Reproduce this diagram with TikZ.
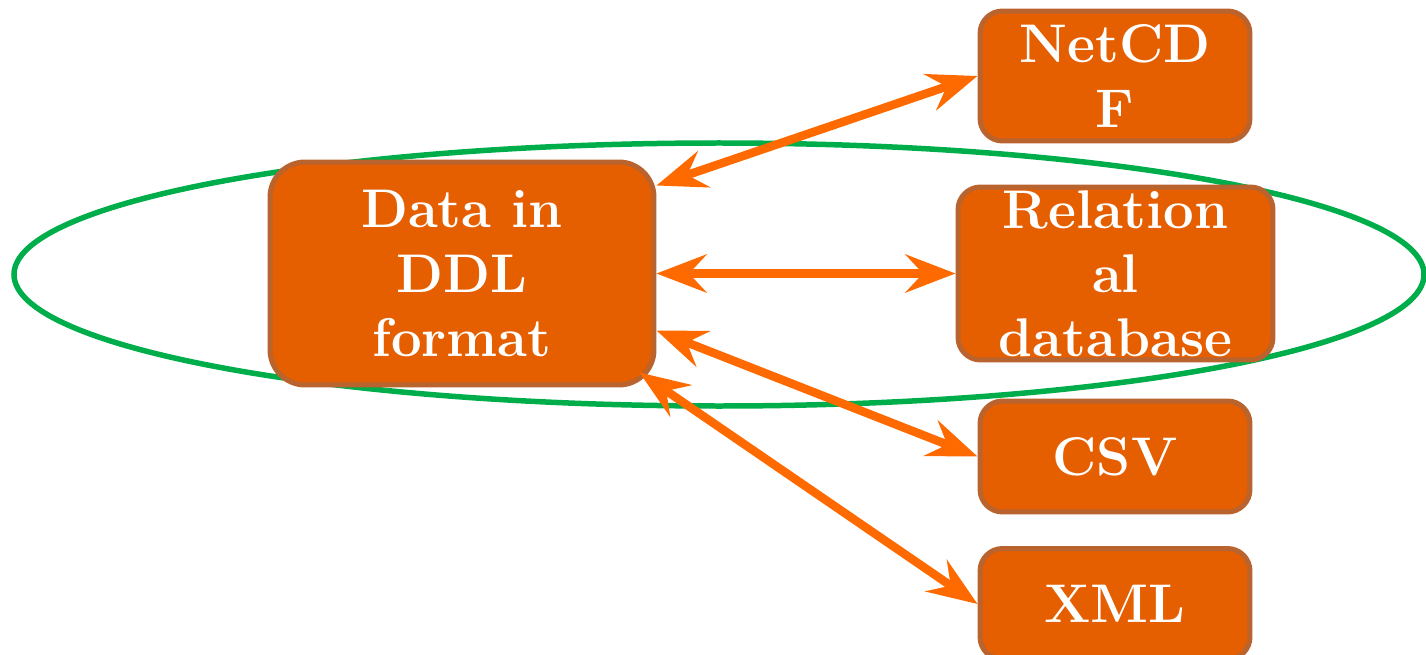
\documentclass[tikz,border=0pt]{standalone}
\usepackage{fontspec}
\usetikzlibrary{arrows.meta}
\definecolor{boxfill}{HTML}{E55E00}
\definecolor{boxline}{HTML}{B9632E}
\definecolor{arr}{HTML}{FF6A00}
\definecolor{ellcol}{HTML}{00AD4B}
\tikzset{
  fmtbox/.style={draw=boxline, fill=boxfill, line width=0.1cm, rounded corners=0.45cm,
    text=white, font=\fontsize{31}{36.5}\selectfont\bfseries, align=center, inner sep=0pt},
  link/.style={draw=arr, line width=0.17cm,
    {Stealth[length=1cm,width=0.76cm,inset=0.35cm]}-{Stealth[length=1cm,width=0.76cm,inset=0.35cm]}}
}
\begin{document}
\begin{tikzpicture}[x=0.02cm,y=-0.02cm]
\useasboundingbox (0,0) rectangle (1426,655);
\draw[ellcol, line width=0.11cm] (719,274.5) ellipse [x radius=705, y radius=131.5];
\node[fmtbox, rounded corners=0.7cm, minimum width=7.68cm, minimum height=4.46cm] (main) at (462,273.5) {Data in\\DDL\\format};
\node[fmtbox, minimum width=5.4cm, minimum height=2.6cm] (net) at (1115,76) {NetCD\\F};
\node[fmtbox, minimum width=6.3cm, minimum height=3.46cm] (rel) at (1115.5,273.5) {Relation\\al\\database};
\node[fmtbox, minimum width=5.4cm, minimum height=2.22cm] (csv) at (1115,456.5) {CSV};
\node[fmtbox, minimum width=5.4cm, minimum height=2.22cm] (xml) at (1115,604) {XML};
\draw[link] ([shift={(0,-88)}]main.east) -- (net.west);
\draw[link] (main.east) -- (rel.west);
\draw[link] ([shift={(0,57)}]main.east) -- (csv.west);
\draw[link] ([shift={(-17,-15)}]main.south east) -- (xml.west);
\end{tikzpicture}
\end{document}
